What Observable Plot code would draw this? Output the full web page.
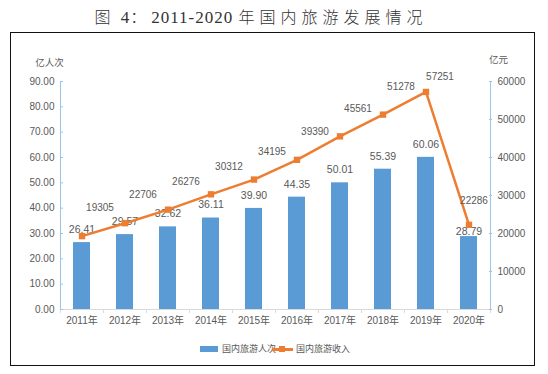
<!DOCTYPE html>
<html><head><meta charset="utf-8">
<script src="https://cdn.jsdelivr.net/npm/d3@7"></script>
<script src="https://cdn.jsdelivr.net/npm/@observablehq/plot@0.6"></script>
<style>
body{margin:0;background:#fff;width:548px;height:374px;position:relative;overflow:hidden;}
#title{position:absolute;left:0;top:0;width:522px;height:32px;line-height:32px;text-align:center;font-family:"Noto Sans CJK SC",sans-serif;font-size:16px;font-weight:300;color:#333;white-space:nowrap;}
#title .cjk{letter-spacing:5px;}
#title .num{letter-spacing:1px;font-family:"Liberation Serif","DejaVu Serif",serif;font-size:17px;font-weight:400;}
#box{position:absolute;left:10px;top:32px;width:523px;height:332px;border:1px solid #111;background:#fff;}
#chart{position:absolute;left:0;top:0;}
#legend{position:absolute;left:0;top:0;width:523px;height:332px;font-family:"Noto Sans CJK SC",sans-serif;font-size:9px;color:#595959;pointer-events:none;}
#legend .sw{position:absolute;}
#legend .lt{position:absolute;line-height:12px;white-space:nowrap;}
</style>
</head><body>
<div id="title"></div>
<div id="box"><div id="chart"></div><div id="legend"></div></div>
<script>
// ---- data ----
const years = ["2011年","2012年","2013年","2014年","2015年","2016年","2017年","2018年","2019年","2020年"];
const visitors = [26.41, 29.57, 32.62, 36.11, 39.90, 44.35, 50.01, 55.39, 60.06, 28.79]; // 亿人次
const revenue = [19305, 22706, 26276, 30312, 34195, 39390, 45561, 51278, 57251, 22286]; // 亿元
const leftTicks = [0, 10, 20, 30, 40, 50, 60, 70, 80, 90];
const rightTicks = [0, 10000, 20000, 30000, 40000, 50000, 60000];
const seriesNames = ["国内旅游人次", "国内旅游收入"];
const leftTitle = "亿人次";
const rightTitle = "亿元";
const titleParts = [["cjk","图"],["num"," 4"],["cjk","："],["num","2011-2020"],["num"," "],["cjk","年国内旅游发展情况"]];

// ---- title ----
const t = document.getElementById("title");
titleParts.forEach(([c, s]) => { const sp = document.createElement("span"); sp.className = c; sp.textContent = s; t.appendChild(sp); });

// ---- chart ----
const BLUE = "#5B9BD5", ORANGE = "#ED7D31", AXIS = "#9DC3E6", GRID = "#D9D9D9", TEXT = "#595959";
const leftMax = leftTicks[leftTicks.length - 1], rightMax = rightTicks[rightTicks.length - 1];
const data = years.map((year, i) => ({year, visitors: visitors[i], revenue: revenue[i], revScaled: revenue[i] * leftMax / rightMax}));
const W = 523, H = 300, ml = 49, mr = 43, mt = 48, mb = 24;
const step = (W - ml - mr) / years.length;
const unitPx = (H - mt - mb) / leftMax;
const last = years[years.length - 1];
const y2019 = years[years.length - 2];

const chart = Plot.plot({
  width: W, height: H, marginLeft: ml, marginRight: mr, marginTop: mt, marginBottom: mb,
  style: {fontFamily: "'Liberation Sans', 'Noto Sans CJK SC', sans-serif", fontSize: "10px", color: TEXT, background: "transparent"},
  x: {domain: years, paddingInner: 0.6, paddingOuter: 0.3, axis: null},
  y: {domain: [0, leftMax], axis: null},
  marks: [
    Plot.barY(data, {x: "year", y: "visitors", fill: BLUE}),
    Plot.ruleY([0], {stroke: GRID}),
    Plot.ruleX(years, {x: d => d, y1: 0, y2: -4 / unitPx, dx: -step / 2, stroke: GRID}),
    Plot.ruleX([last], {x: d => d, y1: 0, y2: -4 / unitPx, dx: step / 2, stroke: GRID}),
    Plot.ruleX([years[0]], {x: d => d, y1: 0, y2: leftMax, dx: -step / 2, stroke: AXIS}),
    Plot.ruleX([last], {x: d => d, y1: 0, y2: leftMax, dx: step / 2, stroke: AXIS}),
    Plot.axisX({tickSize: 0, tickPadding: 7, label: null, fill: TEXT}),
    Plot.axisY(leftTicks, {anchor: "left", tickSize: -3, tickPadding: 9, tickFormat: d => d.toFixed(2), stroke: AXIS, fill: TEXT, label: null}),
    Plot.axisY(rightTicks.map(d => d * leftMax / rightMax), {anchor: "right", tickSize: -3, tickPadding: 9, tickFormat: d => String(Math.round(d * rightMax / leftMax)), stroke: AXIS, fill: TEXT, label: null}),
    Plot.text([leftTitle], {frameAnchor: "top-left", textAnchor: "middle", text: d => d, dx: -11, dy: -22, fontSize: 9.5, fill: TEXT, fontFamily: "'Noto Sans CJK SC', sans-serif"}),
    Plot.text([rightTitle], {frameAnchor: "top-right", textAnchor: "middle", text: d => d, dx: 7, dy: -25, fontSize: 9.5, fill: TEXT, fontFamily: "'Noto Sans CJK SC', sans-serif"}),
    Plot.text(data, {filter: d => d.year !== last, x: "year", y: "visitors", text: d => d.visitors.toFixed(2), dy: -13, fill: TEXT, fontSize: 10.5}),
    Plot.text(data, {filter: d => d.year === last, x: "year", y: "visitors", text: d => d.visitors.toFixed(2), dy: -5, fill: TEXT, fontSize: 10.5}),
    Plot.line(data, {x: "year", y: "revScaled", stroke: ORANGE, strokeWidth: 2.5}),
    Plot.dot(data, {x: "year", y: "revScaled", symbol: "square", r: 3.6, fill: ORANGE, stroke: null}),
    Plot.text(data, {filter: d => d.year !== last && d.year !== y2019, x: "year", y: "revScaled", text: d => String(d.revenue), dx: 18, dy: -28, fill: TEXT}),
    Plot.text(data, {filter: d => d.year === y2019, x: "year", y: "revScaled", text: d => String(d.revenue), dx: 14, dy: -15, fill: TEXT}),
    Plot.text(data, {filter: d => d.year === last, x: "year", y: "revScaled", text: d => String(d.revenue), dx: 5, dy: -24, fill: TEXT})
  ]
});
document.getElementById("chart").appendChild(chart);

// ---- legend ----
const lg = document.getElementById("legend");
function add(cls, css, text) { const e = document.createElement("div"); e.className = cls; Object.assign(e.style, css); if (text) e.textContent = text; lg.appendChild(e); }
add("sw", {left: "189px", top: "313px", width: "18px", height: "6px", background: BLUE});
add("lt", {left: "211px", top: "310px"}, seriesNames[0]);
add("sw", {left: "261px", top: "315px", width: "21px", height: "2.5px", background: ORANGE});
add("sw", {left: "268px", top: "313px", width: "6px", height: "6px", background: ORANGE});
add("lt", {left: "285px", top: "310px"}, seriesNames[1]);
</script>
</body></html>
